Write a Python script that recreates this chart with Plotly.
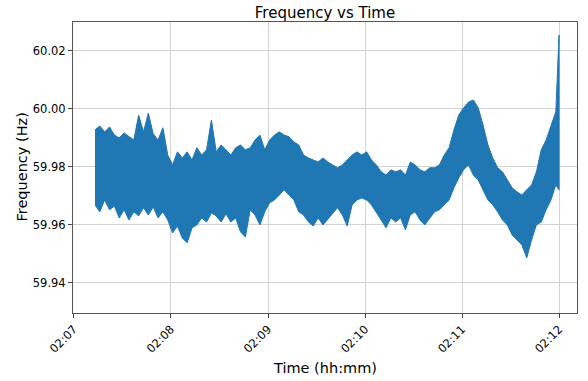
import pandas as pd
import plotly.graph_objects as go

# Time offsets (seconds after 02:07:00)
base_time = "2024-01-01 02:07:00"
t_sec = [13, 16, 19, 22, 25, 28, 31, 34, 37, 40, 43, 46, 49, 52, 55, 58, 61, 64, 67, 70,
         73, 76, 79, 82, 85, 88, 91, 94, 97, 100, 103, 106, 109, 112, 115, 118, 121, 124, 127, 130,
         133, 136, 139, 142, 145, 148, 151, 154, 157, 160, 163, 166, 169, 172, 175, 178, 181, 184, 187, 190,
         193, 196, 199, 202, 205, 208, 211, 214, 217, 220, 223, 226, 229, 232, 235, 238, 241, 244, 247, 250,
         253, 256, 259, 262, 265, 268, 271, 274, 277, 280, 283, 286, 289, 292, 295, 298, 300]

# Upper envelope of the frequency trace (Hz)
freq_high = [59.9928, 59.9941, 59.9921, 59.9938, 59.9910, 59.9900, 59.9917, 59.9904, 59.9893, 59.9979,
             59.9921, 59.9986, 59.9914, 59.9893, 59.9935, 59.9841, 59.9807, 59.9852, 59.9831, 59.9852,
             59.9824, 59.9866, 59.9841, 59.9859, 59.9962, 59.9852, 59.9876, 59.9859, 59.9841, 59.9866,
             59.9876, 59.9859, 59.9866, 59.9893, 59.9910, 59.9859, 59.9893, 59.9910, 59.9921, 59.9910,
             59.9904, 59.9886, 59.9876, 59.9841, 59.9831, 59.9824, 59.9817, 59.9831, 59.9817, 59.9807,
             59.9797, 59.9807, 59.9824, 59.9841, 59.9852, 59.9841, 59.9852, 59.9824, 59.9807, 59.9783,
             59.9772, 59.9790, 59.9783, 59.9790, 59.9772, 59.9817, 59.9807, 59.9790, 59.9783, 59.9797,
             59.9797, 59.9807, 59.9841, 59.9866, 59.9928, 59.9979, 60.0004, 60.0024, 60.0031, 60.0004,
             59.9945, 59.9876, 59.9831, 59.9797, 59.9783, 59.9755, 59.9728, 59.9714, 59.9703, 59.9721,
             59.9738, 59.9783, 59.9859, 59.9893, 59.9945, 59.9990, 60.0255]

# Lower envelope of the frequency trace (Hz)
freq_low = [59.9669, 59.9645, 59.9686, 59.9652, 59.9665, 59.9624, 59.9652, 59.9617, 59.9645, 59.9631,
            59.9659, 59.9634, 59.9662, 59.9624, 59.9645, 59.9617, 59.9572, 59.9596, 59.9555, 59.9538,
            59.9590, 59.9600, 59.9624, 59.9610, 59.9641, 59.9631, 59.9610, 59.9638, 59.9610, 59.9624,
            59.9576, 59.9558, 59.9652, 59.9634, 59.9600, 59.9645, 59.9676, 59.9686, 59.9703, 59.9721,
            59.9703, 59.9686, 59.9645, 59.9634, 59.9610, 59.9596, 59.9624, 59.9600, 59.9617, 59.9638,
            59.9659, 59.9634, 59.9596, 59.9669, 59.9686, 59.9693, 59.9686, 59.9669, 59.9645, 59.9617,
            59.9590, 59.9624, 59.9610, 59.9624, 59.9583, 59.9634, 59.9645, 59.9617, 59.9600, 59.9624,
            59.9645, 59.9652, 59.9669, 59.9686, 59.9728, 59.9762, 59.9790, 59.9807, 59.9772, 59.9755,
            59.9721, 59.9686, 59.9669, 59.9645, 59.9617, 59.9600, 59.9565, 59.9548, 59.9531, 59.9486,
            59.9548, 59.9600, 59.9610, 59.9652, 59.9686, 59.9738, 59.9721]

y_ticks = [59.94, 59.96, 59.98, 60.00, 60.02]
x_tick_labels = ["02:07", "02:08", "02:09", "02:10", "02:11", "02:12"]

base = pd.Timestamp(base_time)
times = [base + pd.Timedelta(seconds=s) for s in t_sec]
x_poly = times + times[::-1]
y_poly = freq_high + freq_low[::-1]

blue = "#1f77b4"
fig = go.Figure()
fig.add_trace(go.Scatter(
    x=x_poly, y=y_poly, mode="lines", fill="toself",
    fillcolor=blue, line=dict(color=blue, width=1),
    hoverinfo="skip", showlegend=False))

tick_vals = [pd.Timestamp("2024-01-01 " + lab) for lab in x_tick_labels]
font_family = "DejaVu Sans, Arial, sans-serif"

W, H = 588, 381
L, R, T, B = 73, 11, 22, 68
PW, PH = W - L - R, H - T - B
fig.update_layout(
    width=W, height=H,
    margin=dict(l=L, r=R, t=T, b=B, autoexpand=False),
    paper_bgcolor="white", plot_bgcolor="white",
    font=dict(family=font_family, color="black"),
    title=dict(text="Frequency vs Time", x=0.5, xref="paper", xanchor="center",
               y=1 - 13 / H, yref="container", yanchor="middle",
               font=dict(size=15, family=font_family)),
    showlegend=False,
    annotations=[
        dict(text="Time (hh:mm)", xref="paper", x=0.5, yref="paper", y=-(368 - (T + PH)) / PH,
             yanchor="middle", xanchor="center", showarrow=False, font=dict(size=14.5)),
        dict(text="Frequency (Hz)", xref="paper", x=-(L - 21) / PW, yref="paper", y=0.5,
             xanchor="center", yanchor="middle", textangle=-90, showarrow=False,
             font=dict(size=14.5)),
    ],
)
fig.update_xaxes(
    type="date", automargin=False,
    range=[base + pd.Timedelta(seconds=-0.6), base + pd.Timedelta(seconds=311.1)],
    tickvals=tick_vals, ticktext=x_tick_labels, tickangle=-45,
    tickfont=dict(size=11.5), ticks="outside", ticklen=4, tickcolor="#444",
    showgrid=True, gridcolor="#d3d3d3", gridwidth=1,
    showline=True, linecolor="#555", linewidth=1, mirror=True,
    zeroline=False,
)
fig.update_yaxes(
    automargin=False,
    range=[59.9296, 60.030],
    tickvals=y_ticks, ticktext=[f"{v:.2f}" for v in y_ticks],
    tickfont=dict(size=11.5), ticks="outside", ticklen=4, tickcolor="#444",
    showgrid=True, gridcolor="#d3d3d3", gridwidth=1,
    showline=True, linecolor="#555", linewidth=1, mirror=True,
    zeroline=False,
)

# Remove the default 8px page margin so the figure fills the window exactly.
fig.write_html("out.html", config={"displayModeBar": False},
               post_script="document.body.style.margin='0px';")
